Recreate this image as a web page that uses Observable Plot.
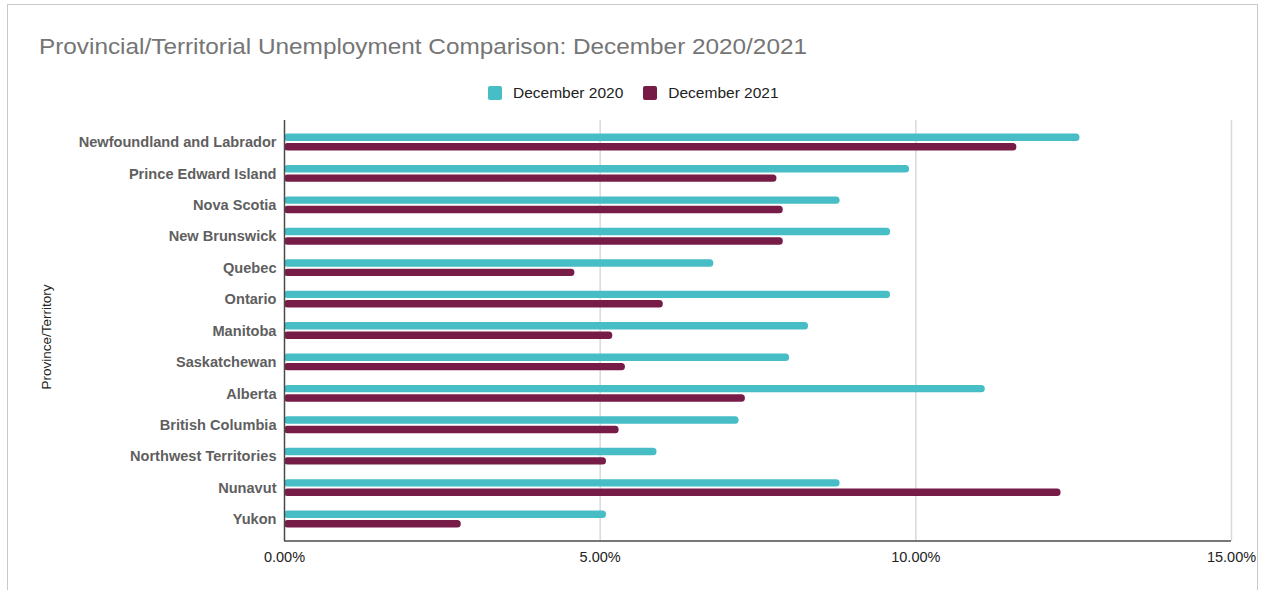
<!DOCTYPE html>
<html>
<head>
<meta charset="utf-8">
<script src="https://cdn.jsdelivr.net/npm/d3@7"></script>
<script src="https://cdn.jsdelivr.net/npm/@observablehq/plot@0.6"></script>
<style>
  html, body { margin: 0; padding: 0; background: #fff; }
  #wrap { position: relative; width: 1268px; height: 590px; overflow: hidden; font-family: "Liberation Sans", Arial, sans-serif; }
  #border { position: absolute; left: 7px; top: 4px; width: 1251px; height: 600px; border: 1.5px solid #c8c8c8; box-sizing: border-box; }
  #title { position: absolute; left: 39px; top: 37px; font-size: 21.5px; line-height: 21.5px; color: #757575; white-space: nowrap; transform-origin: 0 0; }
  #legend { position: absolute; left: 488px; top: 86px; height: 14px; font-size: 15.5px; line-height: 14px; color: #222; display: flex; align-items: center; white-space: nowrap; }
  .sw { width: 14px; height: 14px; border-radius: 2px; display: inline-block; margin-right: 11px; }
  .item { display: flex; align-items: center; margin-right: 20px; }
  #chart { position: absolute; left: 0; top: 110px; }
</style>
</head>
<body>
<div id="wrap">
  <div id="border"></div>
  <div id="title">Provincial/Territorial Unemployment Comparison: December 2020/2021</div>
  <div id="legend"></div>
  <div id="chart"></div>
</div>
<script>
const provinces = [
  "Newfoundland and Labrador", "Prince Edward Island", "Nova Scotia", "New Brunswick",
  "Quebec", "Ontario", "Manitoba", "Saskatchewan", "Alberta", "British Columbia",
  "Northwest Territories", "Nunavut", "Yukon"
];
const dec2020 = [12.6, 9.9, 8.8, 9.6, 6.8, 9.6, 8.3, 8.0, 11.1, 7.2, 5.9, 8.8, 5.1];
const dec2021 = [11.6, 7.8, 7.9, 7.9, 4.6, 6.0, 5.2, 5.4, 7.3, 5.3, 5.1, 12.3, 2.8];
const seriesNames = ["December 2020", "December 2021"];
const seriesColors = ["#47bdc6", "#761c47"];
const xTicks = [0, 5, 10, 15];

const rows2020 = provinces.map((p, i) => ({province: p, value: dec2020[i]}));
const rows2021 = provinces.map((p, i) => ({province: p, value: dec2021[i]}));

// title: stretch horizontally to match the reference width
const title = document.getElementById("title");
const tw = title.getBoundingClientRect().width;
title.style.transform = `scaleX(${768 / tw})`;

// legend
const legend = document.getElementById("legend");
seriesNames.forEach((n, i) => {
  const it = document.createElement("div");
  it.className = "item";
  const sw = document.createElement("span");
  sw.className = "sw";
  sw.style.background = seriesColors[i];
  it.appendChild(sw);
  it.appendChild(document.createTextNode(n));
  legend.appendChild(it);
});

const chart = Plot.plot({
  width: 1268,
  height: 480,
  marginTop: 10,
  marginBottom: 49,
  marginLeft: 284,
  marginRight: 37,
  style: {fontFamily: "'Liberation Sans', Arial, sans-serif", background: "transparent", overflow: "visible"},
  x: {domain: [0, 15], label: null},
  y: {domain: provinces, paddingInner: 0, paddingOuter: 0.2, round: false, label: null},
  marks: [
    Plot.gridX(xTicks.filter(d => d > 0), {stroke: "#d9d9d9", strokeOpacity: 1, strokeWidth: 1.5}),
    Plot.barX(rows2020, {x: "value", y: "province", fill: seriesColors[0], insetTop: 7.3, insetBottom: 16.7, rx: 3.5}),
    Plot.barX(rows2021, {x: "value", y: "province", fill: seriesColors[1], insetTop: 16.7, insetBottom: 7.3, rx: 3.5}),
    Plot.ruleX([0], {stroke: "#4a4a4a", strokeWidth: 1.5}),
    (index, scales, values, dims) => {
      const y = dims.height - dims.marginBottom;
      const l = d3.create("svg:line")
        .attr("x1", scales.x(0)).attr("x2", scales.x(15))
        .attr("y1", y).attr("y2", y)
        .attr("stroke", "#4a4a4a").attr("stroke-width", 1.5);
      return l.node();
    },
    Plot.axisX({ticks: xTicks, tickSize: 0, tickPadding: 10, tickFormat: d => d.toFixed(2) + "%", fontSize: 14.5, fill: "#222", label: null}),
    Plot.axisY({tickSize: 0, tickPadding: 8, fontSize: 14.6, fontWeight: "bold", fill: "#5f5f5f", label: null}),
    Plot.text(["Province/Territory"], {frameAnchor: "left", text: d => d, textAnchor: "middle", rotate: -90, dx: -238, dy: 6, fontSize: 13.5, fill: "#222"})
  ]
});
document.getElementById("chart").appendChild(chart);
</script>
</body>
</html>
